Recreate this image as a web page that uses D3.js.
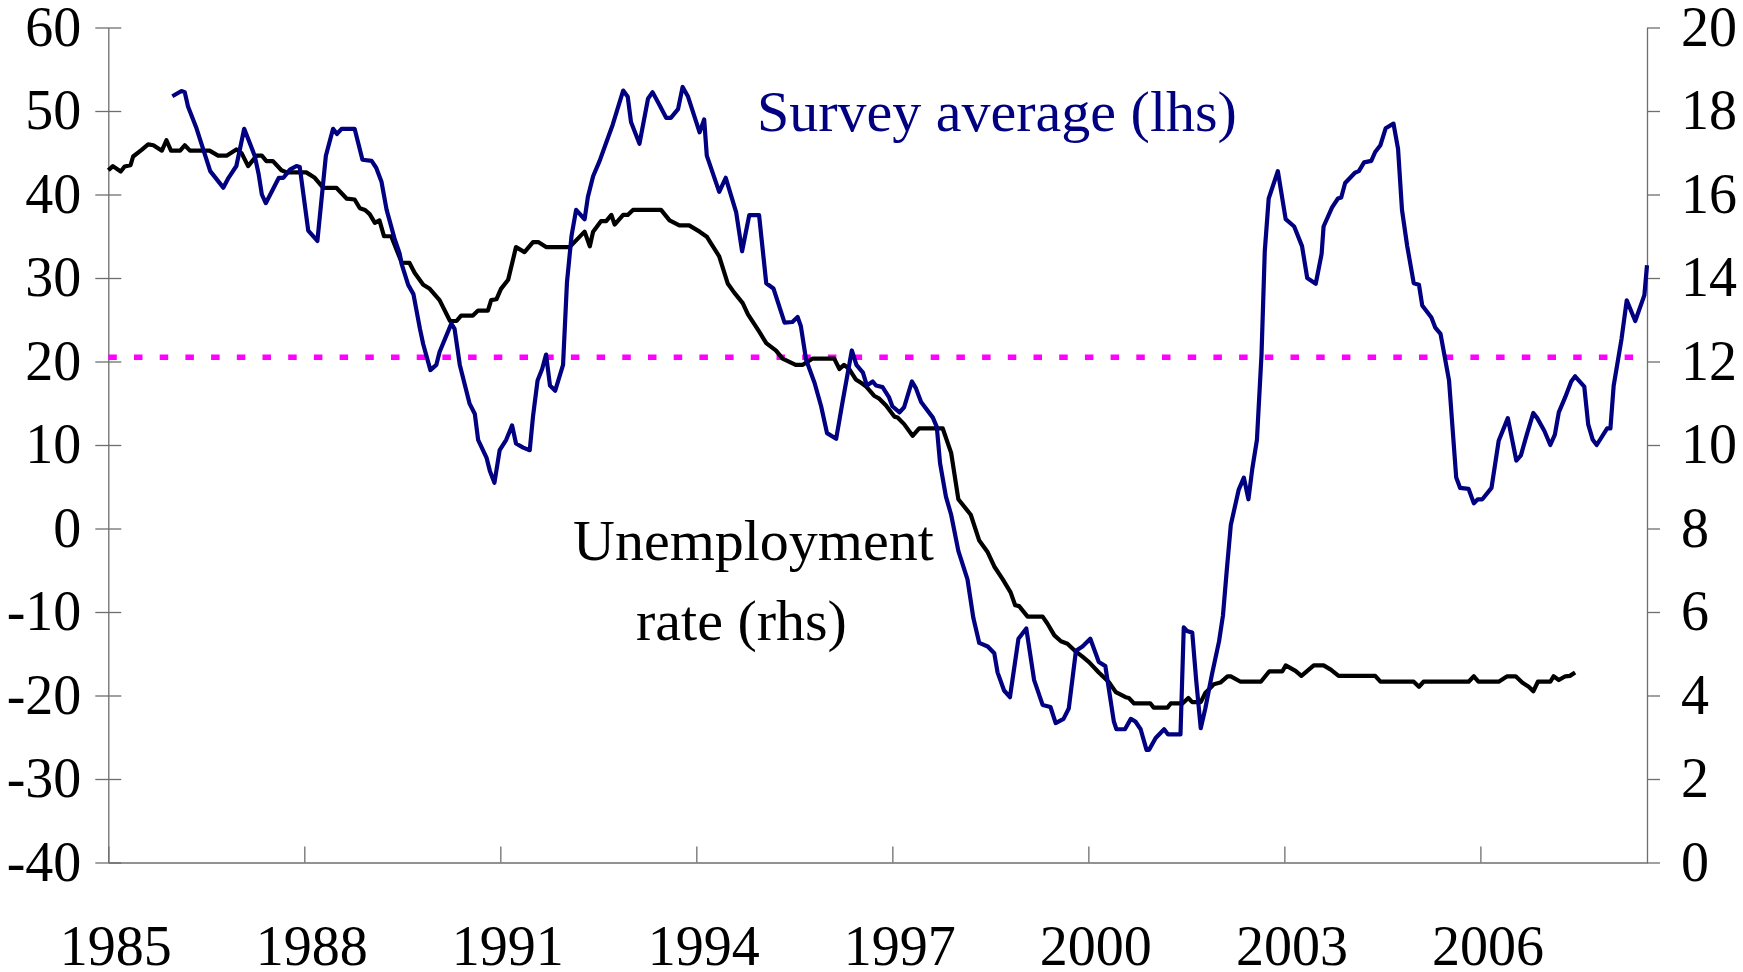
<!DOCTYPE html>
<html lang="en">
<head>
    <meta charset="UTF-8">
    <title>Survey average and unemployment rate</title>
    <script src="https://cdnjs.cloudflare.com/ajax/libs/d3/7.8.2/d3.min.js"></script>
    <style>
        body {
            margin: 0;
            background: #fff;
        }
        svg {
            display: block;
            font-family: "Liberation Serif", "Times New Roman", serif;
        }
        .axis path, .axis line {
            stroke: #6e6e6e;
            stroke-width: 1.3;
        }
        .axis text {
            font-family: "Liberation Serif", "Times New Roman", serif;
            font-size: 56px;
            fill: #000;
        }
        .note {
            font-size: 58px;
        }
    </style>
</head>
<body>
    <svg id="chart" width="1743" height="972"></svg>

    <script>
        // Unemployment rate (rhs)
        const unempYears = [
            1985.00, 1985.07, 1985.19, 1985.25, 1985.34, 1985.38, 1985.51, 1985.61, 1985.69, 1985.82,
            1985.89, 1985.96, 1986.10, 1986.17, 1986.25, 1986.55, 1986.68, 1986.81, 1986.96, 1987.04,
            1987.14, 1987.27, 1987.35, 1987.42, 1987.52, 1987.65, 1987.73, 1988.03, 1988.16, 1988.29,
            1988.49, 1988.65, 1988.77, 1988.85, 1988.93, 1989.00, 1989.08, 1989.15, 1989.22, 1989.33,
            1989.49, 1989.61, 1989.69, 1989.82, 1989.92, 1990.07, 1990.23, 1990.33, 1990.40, 1990.58,
            1990.66, 1990.81, 1990.86, 1990.94, 1991.01, 1991.12, 1991.24, 1991.37, 1991.50, 1991.58,
            1991.70, 1992.06, 1992.29, 1992.37, 1992.42, 1992.54, 1992.62, 1992.70, 1992.75, 1992.88,
            1992.95, 1993.03, 1993.46, 1993.59, 1993.74, 1993.89, 1994.05, 1994.16, 1994.20, 1994.35,
            1994.48, 1994.58, 1994.71, 1994.79, 1994.96, 1995.07, 1995.22, 1995.32, 1995.52, 1995.63,
            1995.78, 1996.11, 1996.19, 1996.26, 1996.34, 1996.44, 1996.52, 1996.60, 1996.72, 1996.80,
            1996.90, 1997.03, 1997.08, 1997.18, 1997.31, 1997.41, 1997.77, 1997.90, 1998.01, 1998.20,
            1998.33, 1998.46, 1998.56, 1998.69, 1998.81, 1998.88, 1998.94, 1999.07, 1999.30, 1999.37,
            1999.48, 1999.58, 1999.68, 1999.81, 1999.91, 2000.01, 2000.16, 2000.32, 2000.42, 2000.57,
            2000.62, 2000.70, 2000.95, 2001.00, 2001.21, 2001.26, 2001.44, 2001.53, 2001.59, 2001.72,
            2001.79, 2001.92, 2002.02, 2002.13, 2002.18, 2002.33, 2002.64, 2002.77, 2002.97, 2003.02,
            2003.17, 2003.26, 2003.32, 2003.45, 2003.60, 2003.71, 2003.83, 2004.39, 2004.47, 2004.98,
            2005.06, 2005.13, 2005.82, 2005.90, 2005.97, 2006.28, 2006.41, 2006.54, 2006.64, 2006.74,
            2006.81, 2006.88, 2007.07, 2007.12, 2007.20, 2007.30, 2007.37, 2007.45
        ];
        const unempRate = [
            16.58, 16.68, 16.55, 16.67, 16.70, 16.91, 17.07, 17.20, 17.18, 17.05,
            17.30, 17.05, 17.05, 17.18, 17.05, 17.05, 16.93, 16.93, 17.08, 16.99,
            16.68, 16.93, 16.93, 16.80, 16.80, 16.58, 16.53, 16.53, 16.40, 16.16,
            16.16, 15.90, 15.88, 15.67, 15.63, 15.53, 15.32, 15.38, 15.00, 15.00,
            14.37, 14.36, 14.12, 13.84, 13.74, 13.47, 12.97, 12.97, 13.10, 13.10,
            13.22, 13.22, 13.47, 13.49, 13.74, 13.96, 14.74, 14.62, 14.86, 14.86,
            14.74, 14.74, 15.11, 14.76, 15.11, 15.36, 15.36, 15.51, 15.28, 15.51,
            15.51, 15.63, 15.63, 15.38, 15.26, 15.26, 15.11, 14.99, 14.89, 14.52,
            13.87, 13.65, 13.40, 13.13, 12.72, 12.44, 12.26, 12.07, 11.92, 11.92,
            12.07, 12.07, 11.82, 11.92, 11.82, 11.57, 11.49, 11.40, 11.18, 11.11,
            10.95, 10.68, 10.66, 10.50, 10.22, 10.40, 10.40, 9.81, 8.70, 8.33,
            7.71, 7.43, 7.09, 6.78, 6.47, 6.16, 6.14, 5.89, 5.89, 5.73,
            5.44, 5.30, 5.24, 5.05, 4.93, 4.80, 4.55, 4.31, 4.08, 3.96,
            3.94, 3.81, 3.81, 3.71, 3.71, 3.81, 3.81, 3.94, 3.84, 3.84,
            4.06, 4.27, 4.31, 4.46, 4.46, 4.33, 4.33, 4.58, 4.58, 4.72,
            4.59, 4.47, 4.55, 4.72, 4.72, 4.62, 4.47, 4.47, 4.33, 4.33,
            4.21, 4.33, 4.33, 4.46, 4.33, 4.33, 4.46, 4.46, 4.31, 4.21,
            4.10, 4.33, 4.33, 4.46, 4.37, 4.46, 4.47, 4.55
        ];

        // Survey average (lhs)
        const surveyYears = [
            1985.98, 1986.12, 1986.17, 1986.22, 1986.35, 1986.56, 1986.76, 1986.84, 1986.96, 1987.08,
            1987.24, 1987.30, 1987.35, 1987.41, 1987.52, 1987.61, 1987.68, 1987.78, 1987.88, 1987.93,
            1988.06, 1988.20, 1988.33, 1988.44, 1988.50, 1988.57, 1988.77, 1988.89, 1989.03, 1989.10,
            1989.18, 1989.26, 1989.38, 1989.46, 1989.49, 1989.59, 1989.67, 1989.77, 1989.82, 1989.93,
            1990.02, 1990.07, 1990.25, 1990.30, 1990.38, 1990.53, 1990.61, 1990.66, 1990.79, 1990.84,
            1990.91, 1990.99, 1991.09, 1991.18, 1991.24, 1991.35, 1991.45, 1991.50, 1991.57, 1991.64,
            1991.70, 1991.76, 1991.84, 1991.96, 1992.02, 1992.09, 1992.16, 1992.29, 1992.34, 1992.42,
            1992.52, 1992.62, 1992.72, 1992.88, 1992.95, 1993.00, 1993.13, 1993.26, 1993.33, 1993.44,
            1993.54, 1993.61, 1993.72, 1993.79, 1993.87, 1994.05, 1994.12, 1994.16, 1994.35, 1994.45,
            1994.61, 1994.70, 1994.81, 1994.96, 1995.07, 1995.18, 1995.35, 1995.47, 1995.55, 1995.60,
            1995.68, 1995.81, 1995.91, 1996.00, 1996.14, 1996.24, 1996.38, 1996.45, 1996.55, 1996.61,
            1996.70, 1996.75, 1996.85, 1996.95, 1997.00, 1997.11, 1997.18, 1997.30, 1997.36, 1997.44,
            1997.62, 1997.68, 1997.73, 1997.82, 1997.90, 1998.01, 1998.15, 1998.24, 1998.33, 1998.46,
            1998.56, 1998.61, 1998.71, 1998.80, 1998.93, 1999.05, 1999.17, 1999.30, 1999.42, 1999.50,
            1999.62, 1999.70, 1999.81, 1999.91, 2000.03, 2000.16, 2000.26, 2000.39, 2000.43, 2000.56,
            2000.65, 2000.72, 2000.80, 2000.89, 2000.93, 2001.03, 2001.16, 2001.22, 2001.41, 2001.46,
            2001.51, 2001.59, 2001.65, 2001.72, 2001.79, 2001.89, 2002.00, 2002.06, 2002.12, 2002.18,
            2002.30, 2002.38, 2002.45, 2002.51, 2002.58, 2002.65, 2002.70, 2002.76, 2002.90, 2003.02,
            2003.15, 2003.27, 2003.35, 2003.48, 2003.57, 2003.60, 2003.73, 2003.82, 2003.87, 2003.93,
            2004.08, 2004.14, 2004.22, 2004.33, 2004.39, 2004.47, 2004.55, 2004.67, 2004.74, 2004.80,
            2004.88, 2004.98, 2005.06, 2005.11, 2005.25, 2005.31, 2005.39, 2005.52, 2005.63, 2005.69,
            2005.82, 2005.90, 2005.96, 2006.03, 2006.17, 2006.28, 2006.42, 2006.55, 2006.62, 2006.71,
            2006.81, 2006.87, 2006.98, 2007.07, 2007.14, 2007.20, 2007.30, 2007.39, 2007.45, 2007.59,
            2007.65, 2007.72, 2007.78, 2007.94, 2007.99, 2008.04, 2008.16, 2008.24, 2008.37, 2008.51,
            2008.55
        ];
        const surveyAvg = [
            51.77, 52.39, 52.26, 50.53, 47.93, 42.80, 40.82, 42.00, 43.41, 47.87,
            44.65, 42.49, 40.00, 38.96, 40.63, 42.00, 42.00, 42.98, 43.41, 43.30,
            35.68, 34.44, 44.65, 47.87, 47.25, 47.87, 47.87, 44.16, 44.03, 43.20,
            41.56, 38.16, 34.75, 32.90, 31.66, 29.18, 28.07, 23.90, 22.07, 18.97,
            19.59, 21.14, 24.54, 23.90, 19.59, 14.95, 13.71, 10.62, 8.45, 6.90,
            5.48, 9.38, 10.62, 12.35, 10.18, 9.69, 9.38, 13.40, 17.73, 19.10,
            20.83, 17.12, 16.50, 19.59, 29.49, 35.06, 38.16, 37.04, 39.70, 42.18,
            44.03, 46.20, 48.36, 52.45, 51.70, 48.67, 46.08, 51.46, 52.26, 50.65,
            49.17, 49.17, 50.22, 52.88, 51.77, 47.44, 48.98, 44.65, 40.32, 42.00,
            37.85, 33.20, 37.54, 37.54, 29.37, 28.75, 24.66, 24.73, 25.34, 24.22,
            20.20, 17.42, 14.64, 11.42, 10.74, 15.26, 21.32, 19.59, 18.66, 17.12,
            17.61, 17.12, 16.93, 15.70, 14.64, 13.90, 14.52, 17.61, 16.81, 15.14,
            13.28, 12.17, 7.83, 3.81, 1.65, -2.69, -6.09, -10.73, -13.70, -14.13,
            -14.94, -17.23, -19.40, -20.20, -13.20, -11.97, -18.16, -21.13, -21.38, -23.30,
            -22.80, -21.56, -14.63, -14.13, -13.20, -15.99, -16.48, -23.11, -24.04, -24.04,
            -22.80, -23.11, -24.04, -26.51, -26.51, -25.09, -24.04, -24.66, -24.66, -11.85,
            -12.28, -12.47, -18.16, -23.91, -21.56, -17.54, -13.52, -10.42, -4.85, 0.41,
            4.62, 6.10, 3.50, 7.21, 10.62, 20.83, 33.20, 39.52, 42.80, 37.04,
            36.17, 33.82, 29.99, 29.31, 32.89, 36.17, 38.46, 39.52, 39.64, 41.37,
            42.61, 42.80, 43.85, 44.03, 45.09, 45.90, 47.93, 48.49, 45.46, 38.16,
            33.82, 29.37, 29.18, 26.71, 25.28, 24.05, 23.30, 17.73, 6.10, 4.86,
            4.74, 3.01, 3.50, 3.50, 4.86, 10.50, 13.22, 8.14, 8.76, 11.24,
            13.84, 13.22, 11.67, 10.00, 11.24, 13.90, 15.76, 17.61, 18.23, 17.00,
            12.47, 10.62, 10.00, 11.98, 11.98, 17.12, 22.69, 27.33, 24.85, 27.95,
            31.53
        ];

        // Average of the survey, drawn as the dotted line
        const surveyMean = 20.5;

        const yearTicks = [1985, 1988, 1991, 1994, 1997, 2000, 2003, 2006];
        const leftTicks = [-40, -30, -20, -10, 0, 10, 20, 30, 40, 50, 60];
        const rightTicks = [0, 2, 4, 6, 8, 10, 12, 14, 16, 18, 20];

        // Plot frame
        const plotLeft = 108.3, plotRight = 1647, plotTop = 27.5, plotBottom = 862.5;

        const svg = d3.select("#chart");
        svg.append("rect")
            .attr("width", 1743)
            .attr("height", 972)
            .attr("fill", "#fff");

        const x = d3.scaleLinear().domain([1985, 2008.55]).range([plotLeft, plotRight]);
        const yL = d3.scaleLinear().domain([-40, 60]).range([plotBottom, plotTop]);
        const yR = d3.scaleLinear().domain([0, 20]).range([plotBottom, plotTop]);

        // Left axis, ticks cross the line
        const gLeft = svg.append("g")
            .attr("class", "axis")
            .attr("transform", `translate(${plotLeft},0)`)
            .call(d3.axisLeft(yL)
                .tickValues(leftTicks)
                .tickFormat(d => String(d))
                .tickSizeInner(13)
                .tickSizeOuter(0)
                .tickPadding(14));
        gLeft.selectAll(".tick line").attr("x1", 13).attr("x2", -13);

        // Right axis
        svg.append("g")
            .attr("class", "axis")
            .attr("transform", `translate(${plotRight},0)`)
            .call(d3.axisRight(yR)
                .tickValues(rightTicks)
                .tickFormat(d => String(d))
                .tickSizeInner(13)
                .tickSizeOuter(0)
                .tickPadding(21));

        // Bottom axis, ticks point inward
        const gBottom = svg.append("g")
            .attr("class", "axis")
            .attr("transform", `translate(0,${plotBottom})`)
            .call(d3.axisBottom(x)
                .tickValues(yearTicks)
                .tickFormat(d => String(d))
                .tickSizeInner(-16)
                .tickSizeOuter(0));
        gBottom.selectAll(".tick text")
            .attr("x", 7)
            .attr("y", 102)
            .attr("dy", null);

        svg.selectAll(".axis").attr("font-family", null);
        svg.selectAll(".axis .domain").attr("stroke", "#6e6e6e");

        // Dotted average line
        svg.append("line")
            .attr("x1", plotLeft)
            .attr("x2", plotRight)
            .attr("y1", yL(surveyMean))
            .attr("y2", yL(surveyMean))
            .attr("stroke", "#ff00ff")
            .attr("stroke-width", 5.5)
            .attr("stroke-dasharray", "8.5 17.2");

        const unemp = unempYears.map((yr, i) => [yr, unempRate[i]]);
        const survey = surveyYears.map((yr, i) => [yr, surveyAvg[i]]);

        svg.append("path")
            .datum(unemp)
            .attr("fill", "none")
            .attr("stroke", "#000")
            .attr("stroke-width", 4.2)
            .attr("stroke-linejoin", "round")
            .attr("d", d3.line().x(d => x(d[0])).y(d => yR(d[1])));

        svg.append("path")
            .datum(survey)
            .attr("fill", "none")
            .attr("stroke", "#000080")
            .attr("stroke-width", 4.2)
            .attr("stroke-linejoin", "round")
            .attr("d", d3.line().x(d => x(d[0])).y(d => yL(d[1])));

        // Series labels
        svg.append("text")
            .attr("class", "note")
            .attr("x", 757)
            .attr("y", 131)
            .attr("fill", "#000080")
            .text("Survey average (lhs)");

        svg.append("text")
            .attr("class", "note")
            .attr("x", 573)
            .attr("y", 560)
            .attr("fill", "#000")
            .text("Unemployment");

        svg.append("text")
            .attr("class", "note")
            .attr("x", 636)
            .attr("y", 640)
            .attr("fill", "#000")
            .text("rate (rhs)");
    </script>
</body>
</html>
